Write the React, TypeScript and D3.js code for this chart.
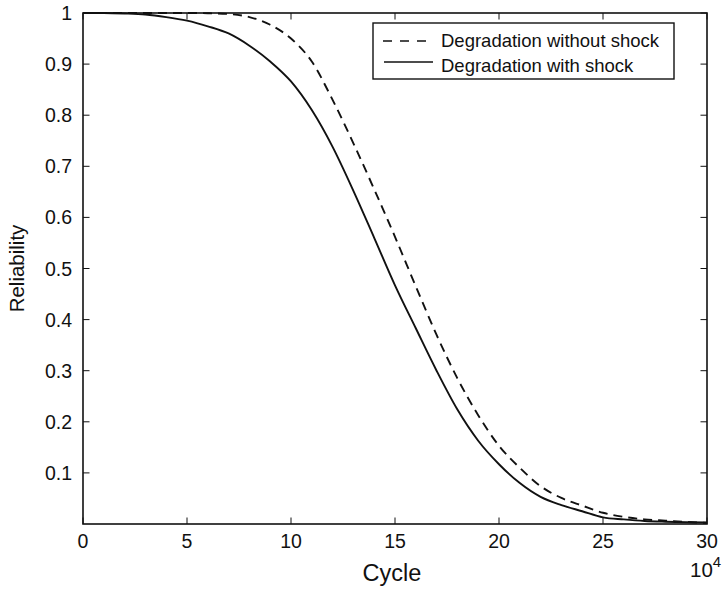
import React from "react";
import * as d3 from "d3";

const cycles = [0, 1, 2, 3, 4, 5, 6, 7, 8, 9, 10, 11, 12, 13, 14, 15, 16, 17, 18, 19, 20, 21, 22, 23, 24, 25, 26, 27, 28, 29, 30];
const withoutShock = [1, 1, 1, 1, 1, 1, 0.9995, 0.998, 0.992, 0.977, 0.95, 0.905, 0.83, 0.745, 0.655, 0.562, 0.465, 0.37, 0.285, 0.213, 0.153, 0.11, 0.074, 0.051, 0.036, 0.022, 0.014, 0.009, 0.0065, 0.004, 0.002];
const withShock = [1, 1, 0.999, 0.997, 0.992, 0.985, 0.974, 0.96, 0.936, 0.905, 0.866, 0.81, 0.738, 0.652, 0.56, 0.467, 0.383, 0.3, 0.224, 0.163, 0.117, 0.08, 0.053, 0.037, 0.025, 0.013, 0.009, 0.006, 0.0045, 0.0035, 0.003];
const xTicks = [0, 5, 10, 15, 20, 25, 30];
const yTicks = [0.1, 0.2, 0.3, 0.4, 0.5, 0.6, 0.7, 0.8, 0.9, 1];
const legendLabels = ["Degradation without shock", "Degradation with shock"];

const W = 726, H = 590;
const L = 83, R = 707, T = 13, B = 524;
const FONT = "'Liberation Sans', Arial, Helvetica, sans-serif";

export default function App() {
  const x = d3.scaleLinear().domain([0, 30]).range([L, R]);
  const y = d3.scaleLinear().domain([0, 1]).range([B, T]);
  const line = d3
    .line<number>()
    .x((_, i) => x(cycles[i]))
    .y((d) => y(d))
    .curve(d3.curveMonotoneX);
  const tl = 6.5;
  return (
    <svg width={W} height={H} style={{ position: "absolute", left: 0, top: 0, background: "#fff" }} fontFamily={FONT}>
      <rect x={0} y={0} width={W} height={H} fill="#fff" />
      {/* curves */}
      <path d={line(withoutShock) || ""} fill="none" stroke="#111" strokeWidth={1.9} strokeDasharray="9,6" />
      <path d={line(withShock) || ""} fill="none" stroke="#111" strokeWidth={1.9} />
      {/* ticks */}
      {xTicks.map((t) => (
        <g key={"x" + t}>
          <line x1={x(t)} x2={x(t)} y1={B} y2={B - tl} stroke="#111" strokeWidth={1} />
          <line x1={x(t)} x2={x(t)} y1={T} y2={T + tl} stroke="#111" strokeWidth={1} />
          <text x={x(t)} y={548} textAnchor="middle" fontSize={19.5} fill="#111">
            {t}
          </text>
        </g>
      ))}
      {yTicks.map((t) => (
        <g key={"y" + t}>
          <line x1={L} x2={L + tl} y1={y(t)} y2={y(t)} stroke="#111" strokeWidth={1} />
          <line x1={R} x2={R - tl} y1={y(t)} y2={y(t)} stroke="#111" strokeWidth={1} />
          <text x={72} y={y(t) + 7} textAnchor="end" fontSize={19.5} fill="#111">
            {String(t)}
          </text>
        </g>
      ))}
      {/* axes box */}
      <rect x={L} y={T} width={R - L} height={B - T} fill="none" stroke="#111" strokeWidth={1.6} />
      {/* axis labels */}
      <text x={(L + R) / 2 - 3} y={581} textAnchor="middle" fontSize={23.5} fill="#111">
        Cycle
      </text>
      <text transform={`translate(24,${(T + B) / 2}) rotate(-90)`} textAnchor="middle" fontSize={20.5} fill="#111">
        Reliability
      </text>
      <text x={690} y={577} fontSize={20.5} fill="#111">
        10<tspan dy={-10} fontSize={15}>4</tspan>
      </text>
      {/* legend */}
      <rect x={373} y={23} width={301} height={56} fill="#fff" stroke="#111" strokeWidth={1.4} />
      <line x1={383} x2={430} y1={41} y2={41} stroke="#111" strokeWidth={1.3} strokeDasharray="9,8" />
      <line x1={384} x2={433} y1={62} y2={62} stroke="#111" strokeWidth={1.3} />
      <text x={441} y={47} fontSize={18.5} fill="#111">
        {legendLabels[0]}
      </text>
      <text x={441} y={72} fontSize={18.5} fill="#111">
        {legendLabels[1]}
      </text>
    </svg>
  );
}
